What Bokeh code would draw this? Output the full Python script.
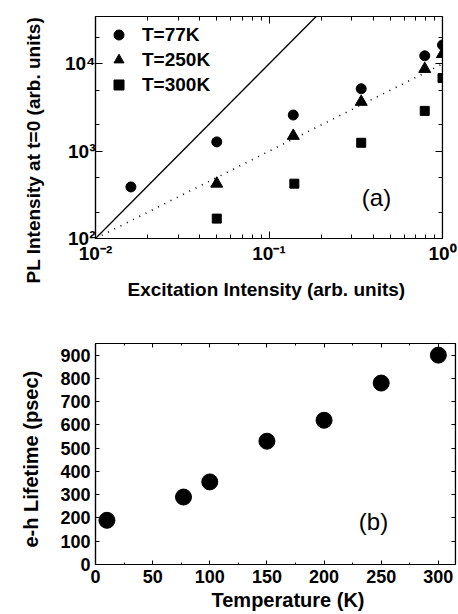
from bokeh.plotting import figure
from bokeh.layouts import column
from bokeh.models import (LogAxis, LinearAxis, FixedTicker, Label, Title,
                          Legend, LegendItem, Range1d)
from bokeh.embed import file_html
from bokeh.resources import INLINE

FONT = "Liberation Sans"

# ---------------- Panel (a) data ----------------
exc_77 = [0.016, 0.05, 0.138, 0.34, 0.79, 1.0]
pl_77 = [390, 1280, 2600, 5200, 12400, 16500]
exc_250 = [0.05, 0.138, 0.34, 0.79, 1.0]
pl_250 = [425, 1500, 3680, 8770, 13000]
exc_300 = [0.05, 0.14, 0.34, 0.79, 1.0]
pl_300 = [169, 425, 1250, 2900, 6900]
quad_x = [0.01, 0.187]
quad_y = [100, 35000]
lin_x = [0.01, 1.0]
lin_y = [100, 10000]
x_ticks = [0.01, 0.1, 1.0]
x_labels = ["10\u207b\u00b2", "10\u207b\u00b9", "10\u2070"]
x_minor = [0.02, 0.03, 0.04, 0.05, 0.06, 0.07, 0.08, 0.09,
           0.2, 0.3, 0.4, 0.5, 0.6, 0.7, 0.8, 0.9]
y_ticks = [100, 1000, 10000]
y_labels = ["10\u00b2", "10\u00b3", "10\u2074"]
y_minor = [200, 500, 2000, 5000, 20000]

# ---------------- Panel (b) data ----------------
temp = [10, 77, 100, 150, 200, 250, 300]
lifetime = [190, 290, 355, 530, 620, 780, 900]
t_ticks = [0, 50, 100, 150, 200, 250, 300]
t_minor = [25, 75, 125, 175, 225, 275]
life_ticks = [0, 100, 200, 300, 400, 500, 600, 700, 800, 900]


def style_axis(ax, tick_in, minor_in, ticks=None, labels=True, size="18px"):
    ax.axis_line_color = "black"
    ax.axis_line_width = 1.2
    ax.major_tick_in = tick_in
    ax.major_tick_out = 0
    ax.minor_tick_in = minor_in
    ax.minor_tick_out = 0
    ax.major_tick_line_color = "black"
    ax.minor_tick_line_color = "black"
    ax.major_tick_line_width = 1
    ax.minor_tick_line_width = 1
    ax.major_label_text_font = FONT
    ax.major_label_text_font_style = "bold"
    if labels:
        ax.major_label_text_font_size = size
        ax.major_label_text_color = "black"
    else:
        ax.major_label_text_font_size = "1px"
        ax.major_label_text_color = None
        ax.major_label_standoff = 0
        ax.major_label_overrides = {t: "" for t in ticks}


def add_title(p, text, side, standoff, offset, size):
    p.add_layout(Title(text=text, align="left", offset=offset,
                       standoff=standoff, text_font=FONT,
                       text_font_style="bold", text_font_size=size,
                       text_color="black"), side)


# ---------------- Figure (a) ----------------
xr1 = Range1d(0.01, 1.0)
yr1 = Range1d(100, 35000)
p1 = figure(frame_width=347, frame_height=222, x_axis_type="log", y_axis_type="log",
            x_range=xr1, y_range=yr1,
            output_backend="svg", toolbar_location=None,
            min_border_left=93, min_border_right=18, min_border_top=16,
            min_border_bottom=72)
p1.grid.visible = False
p1.outline_line_color = "black"
p1.outline_line_width = 1.2

p1.xaxis[0].ticker = FixedTicker(ticks=x_ticks, minor_ticks=x_minor)
p1.yaxis[0].ticker = FixedTicker(ticks=y_ticks, minor_ticks=y_minor)
style_axis(p1.xaxis[0], 7, 4, size="19px")
style_axis(p1.yaxis[0], 7, 4, size="19px")
p1.xaxis[0].major_label_overrides = dict(zip(x_ticks, x_labels))
p1.yaxis[0].major_label_overrides = dict(zip(y_ticks, y_labels))
p1.xaxis[0].major_label_standoff = 4
p1.yaxis[0].major_label_standoff = 0

ax_top = LogAxis(ticker=FixedTicker(ticks=x_ticks, minor_ticks=x_minor),
                 fixed_location=yr1.end)
style_axis(ax_top, 7, 4, ticks=x_ticks, labels=False)
p1.add_layout(ax_top, "above")
ax_right = LogAxis(ticker=FixedTicker(ticks=y_ticks, minor_ticks=y_minor),
                   fixed_location=xr1.end)
style_axis(ax_right, 7, 4, ticks=y_ticks, labels=False)
p1.add_layout(ax_right, "right")

p1.line(quad_x, quad_y, line_color="black", line_width=1.3)
p1.line(lin_x, lin_y, line_color="black", line_width=1.6, line_dash="1 6")

r77 = p1.scatter(exc_77, pl_77, marker="circle", size=10, color="black")
r250 = p1.scatter(exc_250, pl_250, marker="triangle", size=12, color="black")
r300 = p1.scatter(exc_300, pl_300, marker="square", size=9, color="black")

legend = Legend(items=[LegendItem(label="T=77K", renderers=[r77]),
                       LegendItem(label="T=250K", renderers=[r250]),
                       LegendItem(label="T=300K", renderers=[r300])],
                location=(11, 141), glyph_width=25, glyph_height=25,
                label_height=25, spacing=-8, padding=0, margin=0,
                label_standoff=11, border_line_color=None,
                background_fill_alpha=0, label_text_color="black",
                label_text_font=FONT, label_text_font_style="bold",
                label_text_font_size="19px")
p1.add_layout(legend)

add_title(p1, "Excitation Intensity (arb. units)", "below", 20, 32, "19px")
add_title(p1, "PL Intensity at t=0 (arb. units)", "left", 36, -45, "19px")

p1.add_layout(Label(x=281, x_units="screen", y=41, y_units="screen", text="(a)",
                    text_align="center", text_baseline="middle",
                    text_color="black", text_font=FONT, text_font_size="24px"))

# ---------------- Figure (b) ----------------
xr2 = Range1d(0, 315)
yr2 = Range1d(0, 950)
p2 = figure(frame_width=360, frame_height=221, x_range=xr2, y_range=yr2,
            output_backend="svg", toolbar_location=None,
            min_border_left=95, min_border_right=3, min_border_top=33,
            min_border_bottom=50)
p2.grid.visible = False
p2.outline_line_color = "black"
p2.outline_line_width = 1.2

p2.xaxis[0].ticker = FixedTicker(ticks=t_ticks, minor_ticks=t_minor)
p2.yaxis[0].ticker = FixedTicker(ticks=life_ticks)
style_axis(p2.xaxis[0], 4, 2)
style_axis(p2.yaxis[0], 4, 2)
p2.xaxis[0].major_label_standoff = 5
p2.yaxis[0].major_label_standoff = 5

ax2_top = LinearAxis(ticker=FixedTicker(ticks=t_ticks, minor_ticks=t_minor),
                     fixed_location=yr2.end)
style_axis(ax2_top, 4, 2, ticks=t_ticks, labels=False)
p2.add_layout(ax2_top, "above")
ax2_right = LinearAxis(ticker=FixedTicker(ticks=life_ticks),
                       fixed_location=xr2.end)
style_axis(ax2_right, 4, 2, ticks=life_ticks, labels=False)
p2.add_layout(ax2_right, "right")

p2.scatter(temp, lifetime, marker="circle", size=16, color="black")

add_title(p2, "Temperature (K)", "below", 2, 116, "20px")
add_title(p2, "e-h Lifetime (psec)", "left", 32, 17, "20px")

p2.add_layout(Label(x=278, x_units="screen", y=43, y_units="screen", text="(b)",
                    text_align="center", text_baseline="middle",
                    text_color="black", text_font=FONT, text_font_size="24px"))

layout = column(p1, p2, spacing=0)
open("out.html", "w").write(file_html(layout, INLINE))
